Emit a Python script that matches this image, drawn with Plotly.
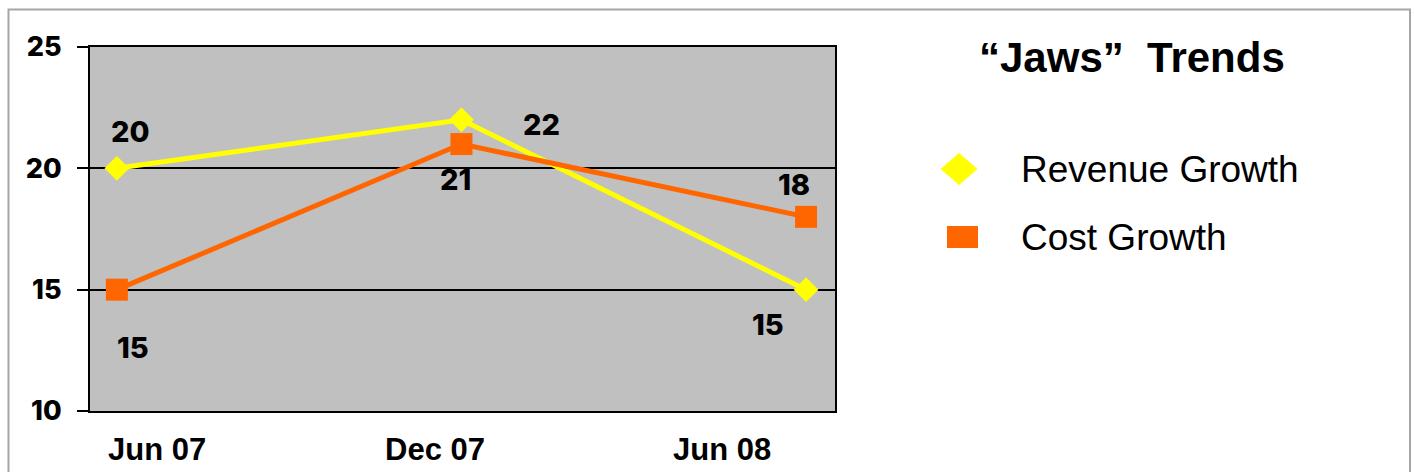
import plotly.graph_objects as go

categories = ["Jun 07", "Dec 07", "Jun 08"]
revenue_growth = [20, 22, 15]
cost_growth = [15, 21, 18]
y_ticks = [10, 15, 20, 25]
title_text = "\u201cJaws\u201d  Trends"
series_names = ["Revenue Growth", "Cost Growth"]

W, H = 1414, 472
FONT = "Liberation Sans, Arial, sans-serif"
NUM_FONT = "Inter, Liberation Sans, Arial, sans-serif"
YELLOW = "#FFFF00"
ORANGE = "#FF6600"


def px(x):
    return x / W


def py(y):
    return 1 - y / H


fig = go.Figure()
fig.add_trace(go.Scatter(
    x=categories, y=revenue_growth, mode="lines+markers", name=series_names[0],
    line=dict(color=YELLOW, width=5),
    marker=dict(symbol="diamond", size=19, color=YELLOW),
    showlegend=False, cliponaxis=False,
))
fig.add_trace(go.Scatter(
    x=categories, y=cost_growth, mode="lines+markers", name=series_names[1],
    line=dict(color=ORANGE, width=5),
    marker=dict(symbol="square", size=22, color=ORANGE),
    showlegend=False, cliponaxis=False,
))

label_font = dict(family=NUM_FONT, size=29, color="black", weight=800)
# data labels (offsets in pixels)
rev_offsets = [(14, 37), (80, -5), (-38, -35)]
cost_offsets = [(16, -58), (-6, -35), (-12, 32)]
annotations = []
for c, v, (dx, dy) in zip(categories, revenue_growth, rev_offsets):
    annotations.append(dict(x=c, y=v, xref="x", yref="y", text=str(v), showarrow=False,
                            xshift=dx, yshift=dy, font=label_font))
for c, v, (dx, dy) in zip(categories, cost_growth, cost_offsets):
    annotations.append(dict(x=c, y=v, xref="x", yref="y", text=str(v), showarrow=False,
                            xshift=dx, yshift=dy, font=label_font))

# category labels under the plot
cat_centers = [157, 435, 722]
for c, xc in zip(categories, cat_centers):
    annotations.append(dict(x=px(xc), y=py(449), xref="paper", yref="paper", text=c,
                            showarrow=False, xanchor="center", yanchor="middle",
                            font=dict(family=FONT, size=31, color="black", weight="bold")))

# title
annotations.append(dict(x=px(1132), y=py(57), xref="paper", yref="paper", text=title_text,
                        showarrow=False, xanchor="center", yanchor="middle",
                        font=dict(family=FONT, size=42, color="black", weight="bold")))

# legend text
leg_font = dict(family=FONT, size=37, color="black")
for name, yc in zip(series_names, [170, 237]):
    annotations.append(dict(x=px(1019), y=py(yc), xref="paper", yref="paper", text=name,
                            showarrow=False, xanchor="left", yanchor="middle", font=leg_font))

shapes = [
    # outer frame
    dict(type="rect", xref="paper", yref="paper", x0=px(8.5), x1=px(1410), y0=-0.1, y1=py(9.5),
         line=dict(color="#A6A6A6", width=2), fillcolor="rgba(0,0,0,0)", layer="below"),
    # legend diamond
    dict(type="path", xref="paper", yref="paper",
         path=f"M {px(940.5)} {py(169)} L {px(959)} {py(153)} L {px(977.5)} {py(169)} L {px(959)} {py(185)} Z",
         fillcolor=YELLOW, line=dict(width=0)),
    # legend square
    dict(type="rect", xref="paper", yref="paper", x0=px(947), x1=px(978), y0=py(248), y1=py(226),
         fillcolor=ORANGE, line=dict(width=0)),
]

fig.update_layout(
    template="none",
    width=W, height=H,
    margin=dict(l=0, r=0, t=0, b=0, pad=0),
    paper_bgcolor="white",
    plot_bgcolor="#C0C0C0",
    showlegend=False,
    annotations=annotations,
    shapes=shapes,
    xaxis=dict(
        type="category", range=[-0.078, 2.084], domain=[px(90), px(835)],
        showticklabels=False, showgrid=False, zeroline=False, ticks="",
        showline=True, mirror=True, linecolor="black", linewidth=2, automargin=False,
    ),
    yaxis=dict(
        range=[10, 25], domain=[py(411), py(47)], tickvals=y_ticks,
        ticks="outside", ticklen=11, tickwidth=2, tickcolor="black",
        showgrid=True, gridcolor="black", gridwidth=1.5, zeroline=False,
        showline=True, mirror=True, linecolor="black", linewidth=2, automargin=False,
        tickfont=dict(family=NUM_FONT, size=27, color="black", weight=800),
        ticklabelstandoff=10,
    ),
)

fig.write_html("out.html")
